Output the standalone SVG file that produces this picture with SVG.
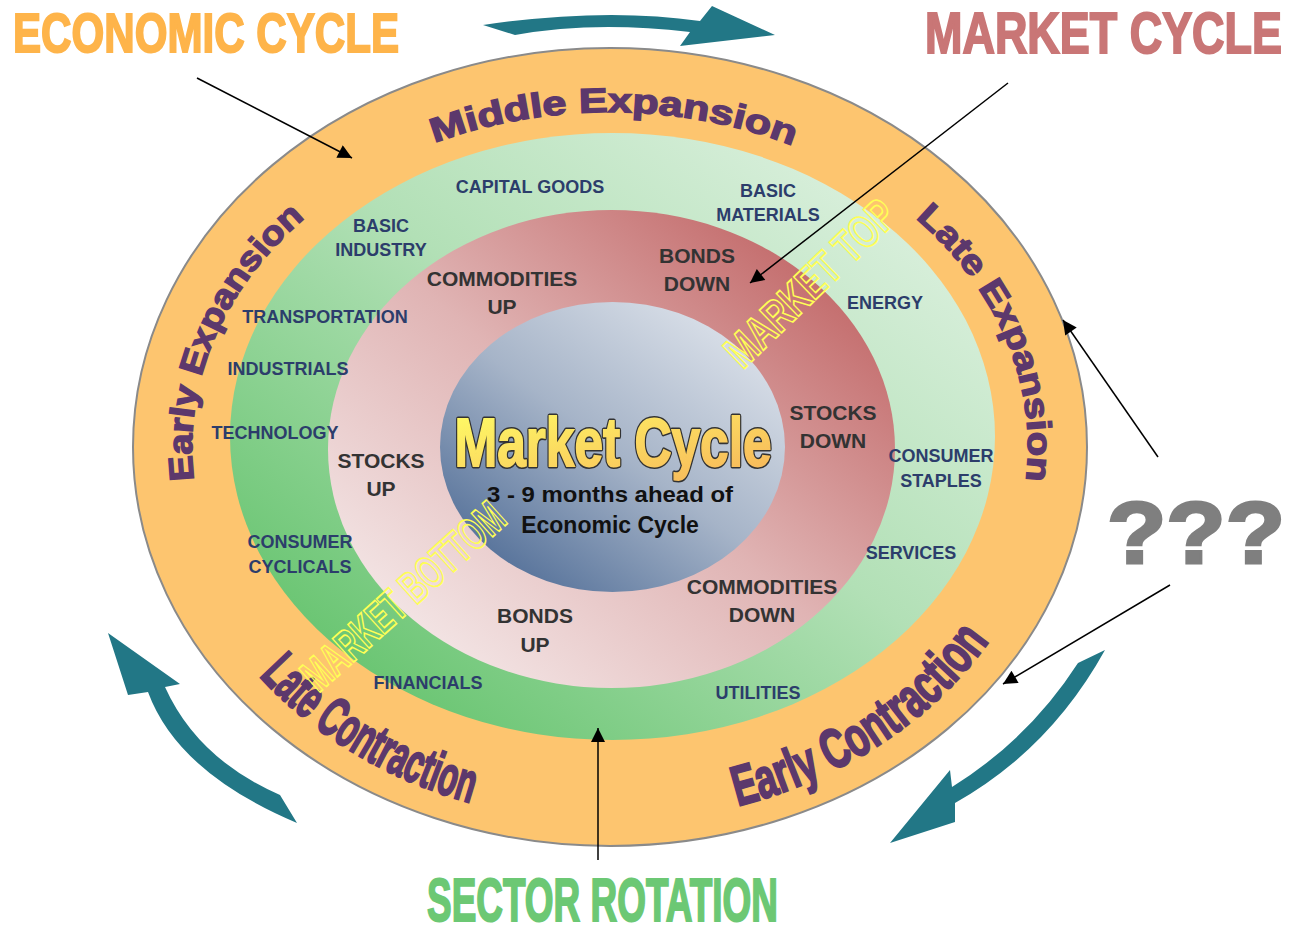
<svg xmlns="http://www.w3.org/2000/svg" width="1296" height="928" viewBox="0 0 1296 928">
<defs>
<linearGradient id="gGreen" x1="0.85" y1="0.15" x2="0.15" y2="0.85">
<stop offset="0" stop-color="#d6eed9"/><stop offset="0.45" stop-color="#b2e0b6"/><stop offset="1" stop-color="#6cc674"/>
</linearGradient>
<linearGradient id="gRed" x1="0.85" y1="0.15" x2="0.15" y2="0.85">
<stop offset="0" stop-color="#c57070"/><stop offset="0.5" stop-color="#e0b4b4"/><stop offset="1" stop-color="#f2e2e2"/>
</linearGradient>
<linearGradient id="gBlue" x1="0.85" y1="0.1" x2="0.15" y2="0.9">
<stop offset="0" stop-color="#d9dfe8"/><stop offset="0.5" stop-color="#a6b4c8"/><stop offset="1" stop-color="#56729a"/>
</linearGradient>
<linearGradient id="gTitle" x1="0" y1="0" x2="1" y2="1">
<stop offset="0" stop-color="#ffff66"/><stop offset="1" stop-color="#f7b45a"/>
</linearGradient>
<path id="topArc" d="M206.2,533.7 A418,335 0 1 1 1013.8,533.7"/>
<path id="botArc" d="M182.1,349.9 A443,375 0 1 0 1037.9,349.9"/>
<marker id="ah" viewBox="0 0 10 10" refX="10" refY="5" markerWidth="18" markerHeight="14" markerUnits="userSpaceOnUse" orient="auto">
<path d="M0,0 L10,5 L0,10 z" fill="#000"/>
</marker>
<style>
.ring{font-family:"Liberation Sans",Arial,sans-serif;font-weight:bold;fill:#5c386c;stroke:#5c386c}
.sec{font-family:"Liberation Sans",Arial,sans-serif;font-weight:bold;font-size:18px;fill:#2c3d6b;text-anchor:middle}
.mkt{font-family:"Liberation Sans",Arial,sans-serif;font-weight:bold;font-size:21px;fill:#333;text-anchor:middle}
.title{font-family:"Liberation Sans",Arial,sans-serif;font-weight:bold}
.outline{font-family:"Liberation Sans",Arial,sans-serif;font-weight:bold;font-size:46px;fill:none;stroke:#ffff55;stroke-width:1.8;text-anchor:middle;dominant-baseline:central}
.conn{stroke:#000;stroke-width:1.5;fill:none;marker-end:url(#ah)}
.teal{fill:#227786}
</style>
</defs>
<rect width="1296" height="928" fill="#fff"/>

<g id="rings">
<ellipse cx="610" cy="447" rx="477" ry="399" fill="#fdc56f" stroke="#8a8a8a" stroke-width="2"/>
<ellipse cx="612.5" cy="436.5" rx="382.5" ry="303.5" fill="url(#gGreen)"/>
<ellipse cx="611.5" cy="449" rx="283.5" ry="239" fill="url(#gRed)"/>
<ellipse cx="612.5" cy="447" rx="172.5" ry="145" fill="url(#gBlue)"/>
</g>

<g id="economic-phases">
<text class="ring" font-size="34" stroke-width="1.4"><textPath href="#topArc" startOffset="55" textLength="297" lengthAdjust="spacingAndGlyphs">Early Expansion</textPath></text>
<text class="ring" font-size="34" stroke-width="1.4"><textPath href="#topArc" startOffset="502" textLength="366" lengthAdjust="spacingAndGlyphs">Middle Expansion</textPath></text>
<text class="ring" font-size="34" stroke-width="1.4"><textPath href="#topArc" startOffset="1011" textLength="297" lengthAdjust="spacingAndGlyphs">Late Expansion</textPath></text>
<text class="ring" font-size="56" stroke-width="2.2"><textPath href="#botArc" startOffset="351" textLength="250" lengthAdjust="spacingAndGlyphs">Late Contraction</textPath></text>
<text class="ring" font-size="56" stroke-width="2.2"><textPath href="#botArc" startOffset="871" textLength="307" lengthAdjust="spacingAndGlyphs">Early Contraction</textPath></text>
</g>

<g id="sectors">
<text class="sec" x="530" y="193">CAPITAL GOODS</text>
<text class="sec" x="768" y="197">BASIC</text>
<text class="sec" x="768" y="221">MATERIALS</text>
<text class="sec" x="381" y="232">BASIC</text>
<text class="sec" x="381" y="256">INDUSTRY</text>
<text class="sec" x="325" y="323">TRANSPORTATION</text>
<text class="sec" x="288" y="375">INDUSTRIALS</text>
<text class="sec" x="275" y="439">TECHNOLOGY</text>
<text class="sec" x="300" y="548">CONSUMER</text>
<text class="sec" x="300" y="573">CYCLICALS</text>
<text class="sec" x="428" y="689">FINANCIALS</text>
<text class="sec" x="758" y="699">UTILITIES</text>
<text class="sec" x="911" y="559">SERVICES</text>
<text class="sec" x="941" y="462">CONSUMER</text>
<text class="sec" x="941" y="487">STAPLES</text>
<text class="sec" x="885" y="309">ENERGY</text>
</g>

<g id="market-phases">
<text class="mkt" x="502" y="285.5">COMMODITIES</text>
<text class="mkt" x="502" y="313.5">UP</text>
<text class="mkt" x="697" y="262.5">BONDS</text>
<text class="mkt" x="697" y="290.5">DOWN</text>
<text class="mkt" x="833" y="419.5">STOCKS</text>
<text class="mkt" x="833" y="447.5">DOWN</text>
<text class="mkt" x="381" y="467.5">STOCKS</text>
<text class="mkt" x="381" y="495.5">UP</text>
<text class="mkt" x="535" y="622.5">BONDS</text>
<text class="mkt" x="535" y="651.5">UP</text>
<text class="mkt" x="762" y="593.5">COMMODITIES</text>
<text class="mkt" x="762" y="621.5">DOWN</text>
</g>

<g id="center">
<text class="title" x="613" y="466" font-size="68" text-anchor="middle" fill="#333" stroke="#333" stroke-width="5" stroke-linejoin="round" textLength="317" lengthAdjust="spacingAndGlyphs">Market Cycle</text>
<text class="title" x="613" y="466" font-size="68" text-anchor="middle" fill="url(#gTitle)" stroke="url(#gTitle)" stroke-width="1.8" textLength="317" lengthAdjust="spacingAndGlyphs">Market Cycle</text>
<text class="title" x="610" y="502" font-size="22" text-anchor="middle" fill="#111" textLength="246" lengthAdjust="spacingAndGlyphs">3 - 9 months ahead of</text>
<text class="title" x="610" y="533" font-size="23" text-anchor="middle" fill="#111">Economic Cycle</text>
</g>

<g id="market-top">
<text class="outline" x="810" y="283" transform="rotate(-44 810 283)" textLength="218" lengthAdjust="spacingAndGlyphs">MARKET TOP</text>
</g>
<g id="market-bottom">
<text class="outline" x="403" y="596" transform="rotate(-42 403 596)" textLength="256" lengthAdjust="spacingAndGlyphs">MARKET BOTTOM</text>
</g>

<g id="title-economic"><text class="title" x="13" y="52" font-size="56" fill="#feb44a" stroke="#feb44a" stroke-width="2" textLength="386" lengthAdjust="spacingAndGlyphs">ECONOMIC CYCLE</text></g>
<g id="title-market"><text class="title" x="925" y="53" font-size="58" fill="#c97676" stroke="#c97676" stroke-width="2" textLength="357" lengthAdjust="spacingAndGlyphs">MARKET CYCLE</text></g>
<g id="title-sector"><text class="title" x="427" y="921" font-size="61" fill="#6cc874" stroke="#6cc874" stroke-width="2" textLength="351" lengthAdjust="spacingAndGlyphs">SECTOR ROTATION</text></g>
<g id="question"><text class="title" x="1107" y="563" font-size="88" fill="#7f7f7f" stroke="#7f7f7f" stroke-width="3" textLength="178" lengthAdjust="spacingAndGlyphs">???</text></g>

<g id="connectors">
<line class="conn" x1="197" y1="78" x2="352" y2="158"/>
<line class="conn" x1="1008" y1="83" x2="750" y2="283"/>
<line class="conn" x1="1158" y1="457" x2="1063" y2="320"/>
<line class="conn" x1="1170" y1="585" x2="1003" y2="684"/>
<line class="conn" x1="598" y1="860" x2="598" y2="728"/>
</g>

<g id="cycle-arrows">
<path class="teal" d="M483,25 Q604.5,7 700,21 L712,6 L775,35 L680,46 L690,32 Q593.5,20.5 515,35 Z"/>
<path class="teal" d="M108,633 L180,684 L165,687 Q197.5,759 280,795 L297,823 Q177.5,772.5 148,692 L128,695 Z"/>
<path class="teal" d="M890,843 L950,770 L952,787 Q1029,739 1078,663 L1105,650 Q1050,749.5 955,803 L955,822 Z"/>
</g>
</svg>
